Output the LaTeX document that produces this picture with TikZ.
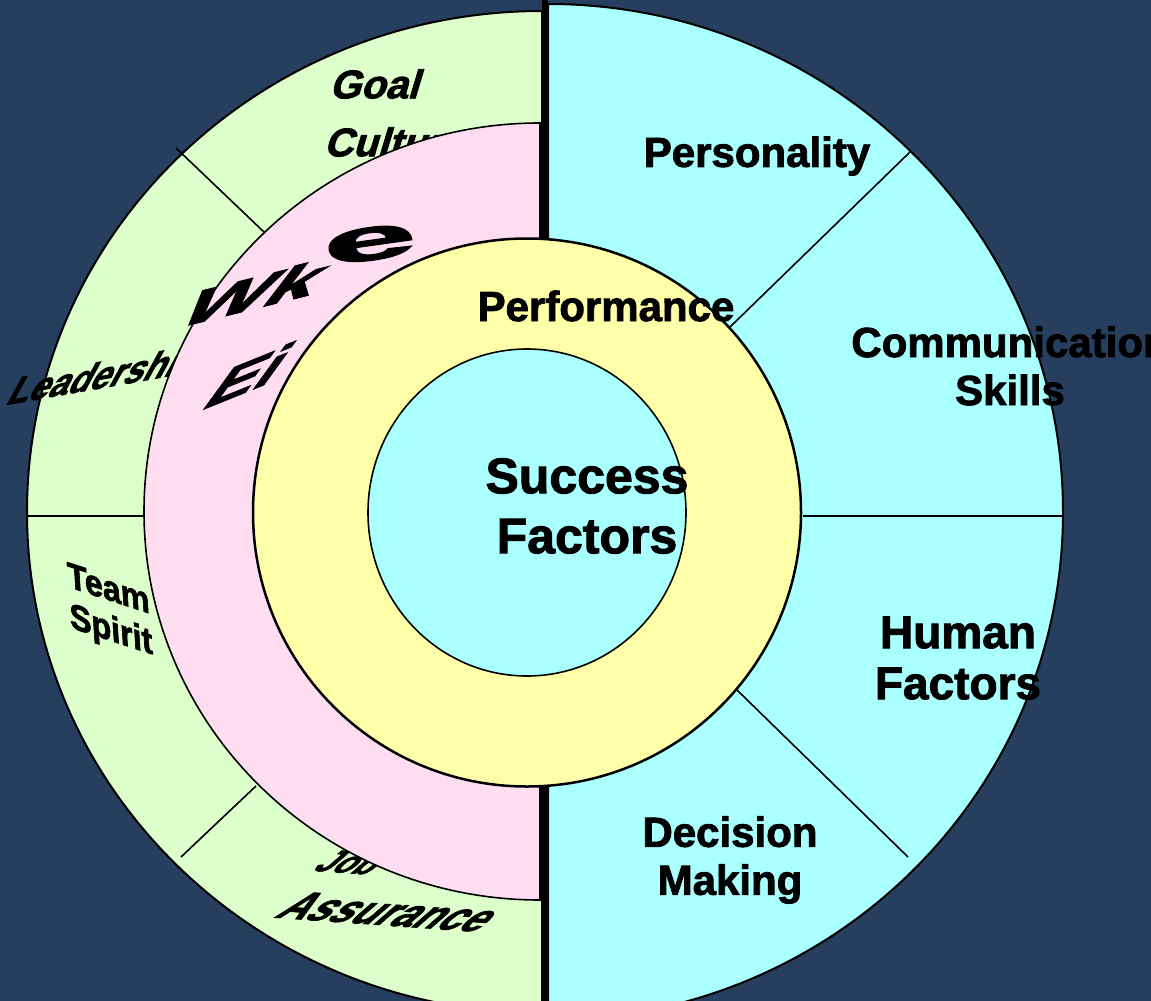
\documentclass[tikz,border=0pt]{standalone}
\usepackage{fontspec}
\setmainfont{Liberation Sans}[BoldFeatures={FakeBold=2}]
\definecolor{bgnavy}{HTML}{263F5F}
\definecolor{segcyan}{HTML}{AAFFFF}
\definecolor{seggreen}{HTML}{DDFFCC}
\definecolor{segpink}{HTML}{FFDDF0}
\definecolor{segyellow}{HTML}{FFFFAA}
\tikzset{
  lbl/.style={font=\bfseries\fontsize{42}{48}\selectfont, align=center, text=black, inner sep=0pt},
  outline/.style={draw=black, line width=2pt},
  divider/.style={draw=black, line width=1.6pt}
}
\begin{document}
\begin{tikzpicture}[x=1pt,y=-1pt]
\useasboundingbox (0,0) rectangle (1151,1001);
\clip (0,0) rectangle (1151,1001);
\fill[bgnavy] (0,0) rectangle (1151,1001);
% outer halves
\filldraw[fill=seggreen, outline] (542,11) arc[start angle=-90, end angle=-270, x radius=515, y radius=501] -- cycle;
\filldraw[fill=segcyan, outline] (548,4) arc[start angle=-90, end angle=90, x radius=515, y radius=508] -- cycle;
% dividers
\draw[divider] (730,327) -- (910,152);
\draw[divider] (803,516) -- (1063,516);
\draw[divider] (737,690) -- (908,857);
\draw[divider] (176,148) -- (265,233);
\draw[divider] (28,516) -- (144,516);
\draw[divider] (181,857) -- (256,786);
% left outer texts (partly hidden by the pink ring)
\node[lbl, font=\bfseries\fontsize{40}{44}\selectfont, xslant=0.3] (tl1) at (378,84) {Goal};
\node[lbl, font=\bfseries\fontsize{40}{44}\selectfont, xslant=0.3] (tl2) at (398,142) {Culture};
\node[lbl, font=\bfseries\fontsize{36}{40}\selectfont, rotate=10, xslant=0.8] (lu) at (105,378) {Leadership};
\node[lbl, font=\bfseries\fontsize{34}{38}\selectfont, rotate=-18, xslant=-0.4] (ll) at (110,612) {Team\\Spirit};
\node[lbl, font=\bfseries\fontsize{32}{36}\selectfont, rotate=-4, xslant=1.0] (bl1) at (352,862) {Job};
\node[lbl, font=\bfseries\fontsize{40}{44}\selectfont, rotate=-4, xslant=1.0] (bl2) at (390,912) {Assurance};
% central thick line
\draw[line width=6pt] (545,0) -- (545,1001);
% pink half ring
\filldraw[fill=segpink, draw=black, line width=1.6pt] (540,123) arc[start angle=-90, end angle=-270, x radius=396, y radius=388.5] -- cycle;
% yellow ring and inner circle
\filldraw[fill=segyellow, draw=black, line width=2.5pt] (527,512.5) circle[radius=274];
\filldraw[fill=segcyan, draw=black, line width=1.6pt] (527,512.5) ellipse[x radius=159, y radius=163.5];
% pink texts
\node[lbl, font=\bfseries\fontsize{44}{48}\selectfont, rotate=14, xscale=2.1, xslant=0.6] (pwk) at (256,292) {Wk};
\node[lbl, font=\bfseries\fontsize{60}{64}\selectfont, rotate=8, xscale=2.8] (pe) at (370,244) {e};
\node[lbl, font=\bfseries\fontsize{40}{44}\selectfont, rotate=22, xscale=2.0, xslant=0.8] (pei) at (250,375) {Ei};
% right and central texts
\node[lbl] (perf) at (606,306) {Performance};
\node[lbl, font=\bfseries\fontsize{50}{60}\selectfont] (succ) at (587,506) {Success\\Factors};
\node[lbl] (pers) at (757,156) {Personality};
\node[lbl] (comm) at (1010,366) {Communication\\Skills};
\node[lbl, font=\bfseries\fontsize{46}{51}\selectfont] (hum) at (958,658) {Human\\Factors};
\node[lbl] (dec) at (730,860) {Decision\\Making};
\end{tikzpicture}
\end{document}
